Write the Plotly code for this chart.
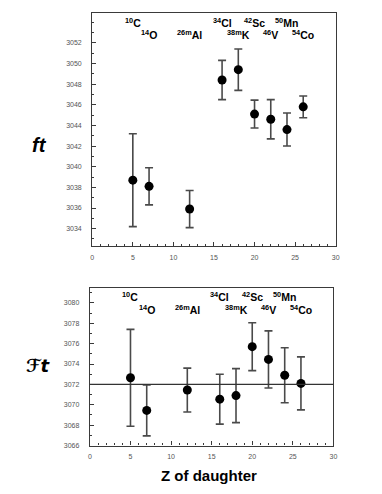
import plotly.graph_objects as go

# ---- data ----
Z = [5, 7, 12, 16, 18, 20, 22, 24, 26]
nuclei_mass = ["10", "14", "26m", "34", "38m", "42", "46", "50", "54"]
nuclei_sym = ["C", "O", "Al", "Cl", "K", "Sc", "V", "Mn", "Co"]

ft = [3038.7, 3038.1, 3035.9, 3048.4, 3049.4, 3045.1, 3044.6, 3043.6, 3045.8]
ft_err = [4.5, 1.8, 1.8, 1.9, 2.0, 1.35, 1.9, 1.6, 1.05]

Ft = [3072.65, 3069.45, 3071.45, 3070.55, 3070.9, 3075.7, 3074.45, 3072.9, 3072.1]
Ft_err = [4.75, 2.5, 2.15, 2.45, 2.65, 2.35, 2.8, 2.7, 2.6]
Ft_avg = 3072.0

x_ticks = [0, 5, 10, 15, 20, 25, 30]
ft_ticks = [3034, 3036, 3038, 3040, 3042, 3044, 3046, 3048, 3050, 3052]
Ft_ticks = [3066, 3068, 3070, 3072, 3074, 3076, 3078, 3080]

# label row for each nucleus (style): True = upper row
label_upper = [True, False, False, True, False, True, False, True, False]

W, H = 382, 494

fig = go.Figure()

marker = dict(color="black", size=9)
errcol = "#4a4a4a"

fig.add_trace(go.Scatter(
    x=Z, y=ft, mode="markers", marker=marker, xaxis="x", yaxis="y",
    error_y=dict(type="data", array=ft_err, visible=True, color=errcol,
                 thickness=1.6, width=4),
    showlegend=False, hoverinfo="skip"))

fig.add_trace(go.Scatter(
    x=Z, y=Ft, mode="markers", marker=marker, xaxis="x2", yaxis="y2",
    error_y=dict(type="data", array=Ft_err, visible=True, color=errcol,
                 thickness=1.6, width=4),
    showlegend=False, hoverinfo="skip"))

tickfont = dict(family="Liberation Sans, Arial, sans-serif", size=7, color="#555")
axcommon = dict(showline=True, mirror=True, linecolor="#3a3a3a", linewidth=1.3,
                ticks="inside", ticklen=4, tickcolor="#3a3a3a", tickwidth=1,
                showgrid=False, zeroline=False, tickfont=tickfont)
minor = dict(dtick=1, ticklen=2, ticks="inside", tickcolor="#3a3a3a")

fig.update_layout(
    width=W, height=H, margin=dict(l=0, r=0, t=0, b=0),
    paper_bgcolor="white", plot_bgcolor="white",
    xaxis=dict(domain=[91.7 / W, 339 / W], range=[0, 30], tickvals=x_ticks,
               anchor="y", ticklabelstandoff=4, minor=minor, **axcommon),
    yaxis=dict(domain=[1 - 247.7 / H, 1 - 13 / H], range=[3032.3, 3054.9],
               tickvals=ft_ticks, anchor="x", ticklabelstandoff=8,
               minor=minor, **axcommon),
    xaxis2=dict(domain=[89.3 / W, 336.7 / W], range=[0, 30], tickvals=x_ticks,
                anchor="y2", ticklabelstandoff=4, minor=minor, **axcommon),
    yaxis2=dict(domain=[1 - 448.3 / H, 1 - 289.3 / H], range=[3066, 3081.5],
                tickvals=Ft_ticks, anchor="x2", ticklabelstandoff=8,
                minor=minor, **axcommon),
)

# horizontal average line on lower panel
fig.add_shape(type="line", xref="x2 domain", yref="y2", x0=0, x1=1,
              y0=Ft_avg, y1=Ft_avg, line=dict(color="#333", width=1.2))

labfont = dict(family="Liberation Sans, Arial, sans-serif", size=10.5, color="black")
for z, m, s, up in zip(Z, nuclei_mass, nuclei_sym, label_upper):
    txt = f"<b><sup>{m}</sup>{s}</b>"
    fig.add_annotation(x=z, y=0.957 if up else 0.906, xref="x", yref="y domain",
                       text=txt, showarrow=False, font=labfont, xanchor="center",
                       yanchor="middle")
    fig.add_annotation(x=z, y=0.943 if up else 0.859, xref="x2", yref="y2 domain",
                       text=txt, showarrow=False, font=labfont, xanchor="center",
                       yanchor="middle")

# axis titles
fig.add_annotation(x=38 / W, y=1 - 146 / H, xref="paper", yref="paper",
                   text="<b><i>ft</i></b>", showarrow=False,
                   xanchor="center", yanchor="middle",
                   font=dict(family="Liberation Sans, Arial, sans-serif", size=20, color="black"))
fig.add_annotation(x=37.5 / W, y=1 - 368 / H, xref="paper", yref="paper",
                   text="<b><i>ℱt</i></b>", showarrow=False,
                   xanchor="center", yanchor="middle",
                   font=dict(family="DejaVu Sans, sans-serif", size=18, color="black"))
fig.add_annotation(x=210 / W, y=1 - 478 / H, xref="paper", yref="paper",
                   text="<b>Z of daughter</b>", showarrow=False,
                   xanchor="center", yanchor="middle",
                   font=dict(family="Liberation Sans, Arial, sans-serif", size=15, color="black"))

fig.write_html("out.html", config={"displayModeBar": False},
               post_script="document.body.style.margin='0';")
